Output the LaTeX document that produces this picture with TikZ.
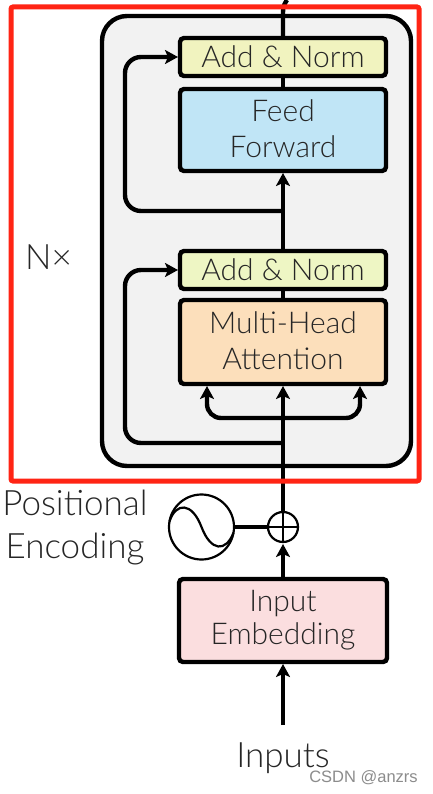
\documentclass[tikz,border=0pt]{standalone}
\usepackage{fontspec}
\setmainfont{Lato Light}[BoldFont={Lato}]
\newfontfamily\wmfont{Liberation Sans}
\usetikzlibrary{arrows.meta}
\definecolor{txt}{HTML}{262626}
\definecolor{redbox}{HTML}{FF2414}
\newcommand{\upl}[1]{\raisebox{2pt}{#1}}
\tikzset{
  blk/.style={draw=black,line width=4.4pt,rounded corners=4pt,outer sep=0pt,inner sep=0pt,align=center,text=txt,font=\fontsize{30}{36}\selectfont,minimum width=206pt},
  wire/.style={draw=black,line width=4.4pt},
  arr/.style={wire,-{Stealth[length=13pt,width=14pt,inset=3pt]},shorten >=2pt},
  thin/.style={draw=black,line width=2.2pt},
  lbl/.style={text=txt,font=\fontsize{35}{43}\selectfont,inner sep=0pt,align=center}
}
\begin{document}
\begin{tikzpicture}[x=1pt,y=-1pt]
\useasboundingbox[fill=white] (0,0) rectangle (432,794);
\node[draw=black,fill=black!5,line width=4.4pt,rounded corners=25pt,minimum width=309pt,minimum height=450pt,outer sep=0pt,inner sep=0pt] (stack) at (256.5,241) {};
\node[blk,fill={rgb,255:red,241;green,243;blue,191},minimum height=38pt] (an1) at (283,57) {Add \& Norm};
\node[blk,fill={rgb,255:red,192;green,229;blue,246},minimum height=82pt] (ff) at (283,130) {\upl{Feed}\\\upl{Forward}};
\node[blk,fill={rgb,255:red,238;green,246;blue,196},minimum height=38pt] (an2) at (283,270) {Add \& Norm};
\node[blk,fill={rgb,255:red,252;green,223;blue,187},minimum height=84pt] (mha) at (283,342) {\upl{Multi-Head}\\\upl{Attention}};
\node[blk,fill={rgb,255:red,251;green,222;blue,223},minimum height=83pt,minimum width=208pt] (emb) at (283,620.5) {\raisebox{-4pt}{Input}\\\raisebox{-1pt}{Embedding}};
\node[circle,thin,minimum size=30pt,inner sep=0pt,outer sep=0pt] (plus) at (283,527) {};
\node[circle,thin,minimum size=65pt,inner sep=0pt,outer sep=0pt] (pe) at (201.5,527) {};
\node[lbl] (pelbl) at (75,528) {Positional\\Encoding};
\node[lbl] (nx) at (48.5,257) {N×};
\node[lbl] (inp) at (283,758) {Inputs};
\coordinate (top) at (287,0);
\coordinate (j1) at (283,211);
\coordinate (j2) at (283,443);
\coordinate (j3) at (283,418);
\coordinate (src) at (283,725);
% plus and sine
\draw[thin] (plus.north) -- (plus.south);
\draw[thin] (plus.west) -- (plus.east);
\draw[wire] (pe.east) -- (plus.west);
\draw[thin] (pe.170) .. controls (176,502) and (192,502) .. (201.5,527) .. controls (211,552) and (226,552) .. (pe.-10);
% main wires
\draw[arr] (src) -- (emb.south);
\draw[arr] (emb.north) -- (plus.south);
\draw[wire] (plus.north) -- (j2);
\draw[arr] (j2) -- (mha.south);
\draw[wire] (mha.north) -- (an2.south);
\draw[wire] (an2.north) -- (283,211);
\draw[arr] (j1) -- (ff.south);
\draw[wire] (ff.north) -- (an1.south);
\draw[wire] (an1.north) -- (283,12) .. controls (283,6) and (285,3) .. (top);
% residuals
\draw[arr,rounded corners=16pt] (j1) -- (125,211) -- (125,57) -- (an1.west);
\draw[arr,rounded corners=16pt] (j2) -- (125,443) -- (125,270) -- (an2.west);
\draw[arr,rounded corners=14pt] (j3) -- (207,418) -- (207,384);
\draw[arr,rounded corners=14pt] (j3) -- (360,418) -- (360,384);
% red frame
\node[draw=redbox,line width=5pt,rounded corners=2pt,minimum width=408pt,minimum height=474pt,inner sep=0pt] (frame) at (215,244) {};
\node[font=\wmfont\fontsize{16.5}{20}\selectfont,text=black!45,inner sep=0pt] (wm) at (363.5,778) {CSDN @anzrs};
\end{tikzpicture}
\end{document}
